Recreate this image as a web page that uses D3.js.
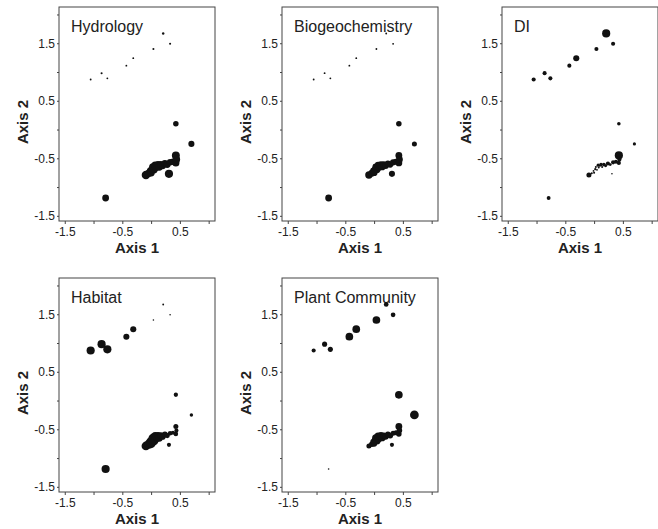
<!DOCTYPE html>
<html><head><meta charset="utf-8">
<script src="https://cdn.jsdelivr.net/npm/d3@7"></script>
<style>body{margin:0;background:#fff}svg{display:block}text{font-family:"Liberation Sans",Arial,sans-serif;fill:#222}</style>
</head><body>
<script>
// ---- data ----
const panelTitles = ["Hydrology", "Biogeochemistry", "DI", "Habitat", "Plant Community"];
// sites: 8 upper-group sites, 5 outliers, 20 clustered sites
const axis1 = [0.21,0.33,0.04,-0.31,-0.43,-0.86,-0.76,-1.05,
  0.43,0.70,0.43,0.31,-0.79,
  -0.09,-0.04,-0.01,0.02,0.03,0.05,0.07,0.08,0.10,0.12,0.14,0.17,0.20,0.24,0.28,0.33,0.38,0.43,0.44,0.00];
const axis2 = [1.67,1.49,1.40,1.24,1.11,0.98,0.89,0.87,
  0.10,-0.25,-0.45,-0.77,-1.19,
  -0.79,-0.76,-0.72,-0.69,-0.65,-0.70,-0.62,-0.66,-0.63,-0.61,-0.65,-0.61,-0.63,-0.59,-0.61,-0.57,-0.56,-0.58,-0.52,-0.75];
const scoreHydrology = [7,5,5,4,4,5,4,4, 36,44,75,79,55,
  85,65,65,65,65,65,65,65,65,60,65,60,55,55,55,50,50,60,65,65];
const scoreBiogeochemistry = [4,4,4,4,4,4,4,4, 36,30,55,44,55,
  65,55,55,55,55,55,55,55,55,55,55,50,50,45,45,45,45,55,55,55];
const scoreDI = [79,20,20,44,20,20,20,20, 15,12,79,3,18,
  30,5,4,6,5,4,12,5,5,15,5,15,10,20,10,20,20,20,20,5];
const scoreHabitat = [4,3,3,44,44,79,79,79, 22,14,30,20,79,
  90,95,95,95,85,95,85,85,75,65,65,55,45,40,30,25,20,25,20,95];
const scorePlant = [26,26,70,70,70,31,31,20, 70,90,55,20,3,
  30,36,50,60,65,65,65,65,60,60,55,48,44,40,40,30,30,36,36,44];
const panelScores = [scoreHydrology, scoreBiogeochemistry, scoreDI, scoreHabitat, scorePlant];
const xTicks = [-1.5,-1,-0.5,0,0.5,1];
const xTickLabels = ["-1.5","","-0.5","","0.5",""];
const yTicks = [-1.5,-1,-0.5,0,0.5,1,1.5,2];
const yTickLabels = ["-1.5","","-0.5","","0.5","","1.5",""];

// ---- layout ----
const W = 658, H = 529;
const pw = 156, ph = 214;
const lefts = [59, 282, 502], tops = [7, 278];
const svg = d3.select("body").append("svg").attr("width", W).attr("height", H);
const x = d3.scaleLinear().domain([-1.6, 1.11]).range([0, pw]);
const y = d3.scaleLinear().domain([-1.59, 2.13]).range([ph, 0]);
const r = d3.scaleSqrt().domain([0, 100]).range([0, 4.6]);

panelTitles.forEach((title, i) => {
  const col = i % 3, row = Math.floor(i / 3);
  const g = svg.append("g").attr("transform", `translate(${lefts[col]},${tops[row]})`);
  g.append("rect").attr("width", pw).attr("height", ph)
    .attr("fill", "none").attr("stroke", "#444").attr("stroke-width", 1);
  const xa = g.append("g").attr("transform", `translate(0,${ph})`)
    .call(d3.axisBottom(x).tickValues(xTicks).tickSize(3).tickPadding(3)
      .tickFormat((d, k) => xTickLabels[k]));
  const ya = g.append("g")
    .call(d3.axisLeft(y).tickValues(yTicks).tickSize(2).tickPadding(2)
      .tickFormat((d, k) => yTickLabels[k]));
  [xa, ya].forEach(a => {
    a.select(".domain").remove();
    a.selectAll("line").attr("stroke", "#444");
    a.selectAll("text").attr("font-size", 12).attr("fill", "#222")
      .attr("font-family", "Liberation Sans, Arial, sans-serif");
  });
  g.append("text").attr("x", 12).attr("y", 25).attr("font-size", 16).text(title);
  g.append("text").attr("x", pw / 2).attr("y", ph + 32).attr("text-anchor", "middle")
    .attr("font-size", 15).attr("font-weight", "bold").attr("fill", "#333").text("Axis 1");
  g.append("text").attr("transform", `translate(-31,${ph / 2 + 8}) rotate(-90)`)
    .attr("text-anchor", "middle").attr("font-size", 15).attr("font-weight", "bold")
    .attr("fill", "#333").text("Axis 2");
  const scores = panelScores[i];
  g.selectAll("circle").data(axis1.map((v, k) => ({ a: v, b: axis2[k], s: scores[k] })))
    .join("circle")
    .attr("cx", d => x(d.a)).attr("cy", d => y(d.b)).attr("r", d => r(d.s))
    .attr("fill", "#111");
});
</script>
</body></html>
